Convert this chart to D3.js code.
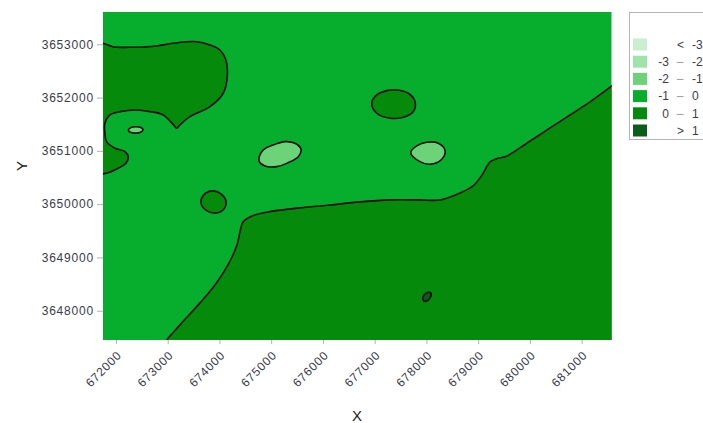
<!DOCTYPE html>
<html>
<head>
<meta charset="utf-8">
<script src="https://cdn.jsdelivr.net/npm/d3@7/dist/d3.min.js"></script>
<style>
  html, body { margin: 0; padding: 0; background: #fff; }
  svg { display: block; font-family: "Liberation Sans", Arial, sans-serif; }
</style>
</head>
<body>
<svg id="chart" width="703" height="423"></svg>
<script>
// Axis ticks (map coordinates, metres)
const xTicks = [672000, 673000, 674000, 675000, 676000, 677000, 678000, 679000, 680000, 681000];
const yTicks = [3648000, 3649000, 3650000, 3651000, 3652000, 3653000];

// Contour classes
const levelLow = ["<", "-3", "-2", "-1", "0", ">"];
const levelHigh = ["-3", "-2", "-1", "0", "1", "1"];
const levelColors = ["#c8f0d0", "#9fe2aa", "#6cd378", "#07ad2c", "#068a0b", "#0a5c16"];
const backgroundLevel = 3;

// Contour boundaries in map coordinates [X, Y]
const southEastBoundary = [
  [672980, 3647453], [673237, 3647734], [673624, 3648147], [673914, 3648484],
  [674165, 3648860], [674339, 3649235], [674397, 3649479], [674455, 3649666],
  [674629, 3649779], [674938, 3649854], [675557, 3649929], [676137, 3649985],
  [676717, 3650042], [677296, 3650079], [677876, 3650079], [678263, 3650079],
  [678650, 3650210], [678901, 3650342], [679075, 3650548], [679229, 3650792],
  [679345, 3650848], [679558, 3650905], [679945, 3651148], [680389, 3651430],
  [680834, 3651711], [681162, 3651918], [681600, 3652230]
];
const southEastCorners = [[681600, 3647400], [672930, 3647400]];

const northWestBoundary = [
  [671700, 3653019], [671749, 3653019], [671942, 3652955], [672329, 3652944],
  [672787, 3652968], [673102, 3653019], [673560, 3653049], [673817, 3652987],
  [674010, 3652893], [674126, 3652705], [674151, 3652392], [674074, 3652081],
  [673817, 3651829], [673430, 3651642], [673227, 3651477], [673173, 3651424],
  [673121, 3651477], [672914, 3651674], [672657, 3651736], [672400, 3651767],
  [672077, 3651736], [671884, 3651674], [671787, 3651518], [671787, 3651330],
  [671820, 3651173], [671981, 3651049], [672174, 3650985], [672238, 3650891],
  [672193, 3650768], [672044, 3650674], [671851, 3650591], [671749, 3650567],
  [671700, 3650567]
];
const northWestCorners = [[671650, 3650567], [671650, 3653019]];

const westSpot = [
  [672242, 3651392], [672290, 3651439], [672387, 3651452], [672483, 3651439],
  [672522, 3651402], [672464, 3651345], [672348, 3651336], [672261, 3651355]
];
const centralPatch = [
  [674770, 3650891], [674847, 3651017], [675041, 3651111], [675267, 3651173],
  [675460, 3651143], [675576, 3651030], [675524, 3650891], [675331, 3650779],
  [675106, 3650704], [674880, 3650717], [674770, 3650798]
];
const northRise = [
  [676943, 3651893], [677039, 3652049], [677233, 3652130], [677426, 3652143],
  [677650, 3652081], [677780, 3651923], [677747, 3651736], [677554, 3651631],
  [677296, 3651612], [677039, 3651706]
];
const eastPatch = [
  [677697, 3650966], [677813, 3651092], [678006, 3651162], [678230, 3651143],
  [678360, 3651004], [678296, 3650843], [678070, 3650749], [677876, 3650798]
];
const westRise = [
  [673643, 3650079], [673740, 3650210], [673875, 3650248], [674030, 3650192],
  [674126, 3650060], [674088, 3649910], [673933, 3649835], [673759, 3649873],
  [673662, 3649967]
];
const southSpot = [
  [677934, 3648203], [677954, 3648297], [678031, 3648344], [678089, 3648325],
  [678070, 3648241], [677992, 3648175]
];

// Open regions that run off the plot edge, then closed islands
const edgeRegions = [
  { boundary: southEastBoundary, corners: southEastCorners, level: 4 },
  { boundary: northWestBoundary, corners: northWestCorners, level: 4 }
];
const islands = [
  { ring: westSpot, level: 2 },
  { ring: centralPatch, level: 2 },
  { ring: northRise, level: 4 },
  { ring: eastPatch, level: 2 },
  { ring: westRise, level: 4 },
  { ring: southSpot, level: 5 }
];

const svg = d3.select("#chart");
const plot = { left: 103, right: 611.7, top: 12, bottom: 340 };

const x = d3.scaleLinear().domain([671750, 681580]).range([plot.left, plot.right]);
const y = d3.scaleLinear().domain([3647450, 3653606]).range([plot.bottom, plot.top]);

svg.append("defs").append("clipPath").attr("id", "plot-clip")
  .append("rect")
  .attr("x", plot.left).attr("y", plot.top)
  .attr("width", plot.right - plot.left).attr("height", plot.bottom - plot.top);

const field = svg.append("g").attr("clip-path", "url(#plot-clip)");

field.append("rect")
  .attr("x", plot.left).attr("y", plot.top)
  .attr("width", plot.right - plot.left).attr("height", plot.bottom - plot.top)
  .attr("fill", levelColors[backgroundLevel]);

const openLine = d3.line().x(d => x(d[0])).y(d => y(d[1])).curve(d3.curveCatmullRom.alpha(0.5));
const closedLine = d3.line().x(d => x(d[0])).y(d => y(d[1])).curve(d3.curveCatmullRomClosed.alpha(0.5));

edgeRegions.forEach(r => {
  const tail = r.corners.map(c => `L${x(c[0])},${y(c[1])}`).join("");
  field.append("path")
    .attr("d", openLine(r.boundary) + tail + "Z")
    .attr("fill", levelColors[r.level]);
  field.append("path")
    .attr("d", openLine(r.boundary))
    .attr("fill", "none")
    .attr("stroke", "#0b0b0b")
    .attr("stroke-width", 1.6)
    .attr("stroke-linejoin", "round");
});

islands.forEach(r => {
  field.append("path")
    .attr("d", closedLine(r.ring))
    .attr("fill", levelColors[r.level])
    .attr("stroke", "#0b0b0b")
    .attr("stroke-width", 1.6)
    .attr("stroke-linejoin", "round");
});

// Axes
const textColor = "#3b3b48";

const yAxis = svg.append("g")
  .attr("transform", `translate(${plot.left},0)`)
  .call(d3.axisLeft(y).tickValues(yTicks).tickFormat(d3.format("d")).tickSize(6).tickPadding(3));
yAxis.select(".domain").remove();
yAxis.selectAll(".tick line").attr("stroke", "#b0b0b0");
yAxis.selectAll(".tick text")
  .attr("fill", textColor)
  .style("font-size", "12px")
  .style("letter-spacing", "0.8px");

const xAxis = svg.append("g")
  .attr("transform", `translate(0,${plot.bottom})`)
  .call(d3.axisBottom(x).tickValues(xTicks).tickFormat(d3.format("d")).tickSize(4).tickPadding(3));
xAxis.select(".domain").remove();
xAxis.selectAll(".tick line").attr("stroke", "#b0b0b0");
xAxis.selectAll(".tick text")
  .attr("fill", textColor)
  .style("font-size", "12px")
  .style("letter-spacing", "0.8px")
  .attr("text-anchor", "end")
  .attr("dy", "0.35em")
  .attr("transform", "translate(3,13) rotate(-45)")
  .attr("y", 0)
  .attr("x", 0);

svg.append("text")
  .attr("x", 357).attr("y", 421)
  .attr("text-anchor", "middle")
  .attr("fill", "#222")
  .style("font-size", "15px")
  .text("X");

svg.append("text")
  .attr("transform", "translate(27,166) rotate(-90)")
  .attr("text-anchor", "middle")
  .attr("fill", "#222")
  .style("font-size", "15px")
  .text("Y");

// Legend
const legend = svg.append("g");
legend.append("rect")
  .attr("x", 629.5).attr("y", 12.5)
  .attr("width", 90).attr("height", 127)
  .attr("fill", "#fff")
  .attr("stroke", "#b4b4b4");

const rows = legend.selectAll("g.row")
  .data(levelColors)
  .join("g")
  .attr("class", "row")
  .attr("transform", (d, i) => `translate(0,${44.5 + i * 17.2})`);

rows.append("rect")
  .attr("x", 633).attr("y", -6)
  .attr("width", 14).attr("height", 12)
  .attr("fill", d => d);

rows.append("text")
  .attr("x", (d, i) => (i === 0 || i === 5) ? 684 : 669)
  .attr("y", 0).attr("dy", "0.35em")
  .attr("text-anchor", "end")
  .attr("fill", textColor)
  .style("font-size", "12px")
  .text((d, i) => levelLow[i]);

rows.filter((d, i) => i > 0 && i < 5).append("text")
  .attr("x", 680)
  .attr("y", 0).attr("dy", "0.35em")
  .attr("text-anchor", "middle")
  .attr("fill", "#9a9a9a")
  .style("font-size", "12px")
  .text("–");

rows.append("text")
  .attr("x", 692)
  .attr("y", 0).attr("dy", "0.35em")
  .attr("fill", textColor)
  .style("font-size", "12px")
  .text((d, i) => levelHigh[i]);
</script>
</body>
</html>
